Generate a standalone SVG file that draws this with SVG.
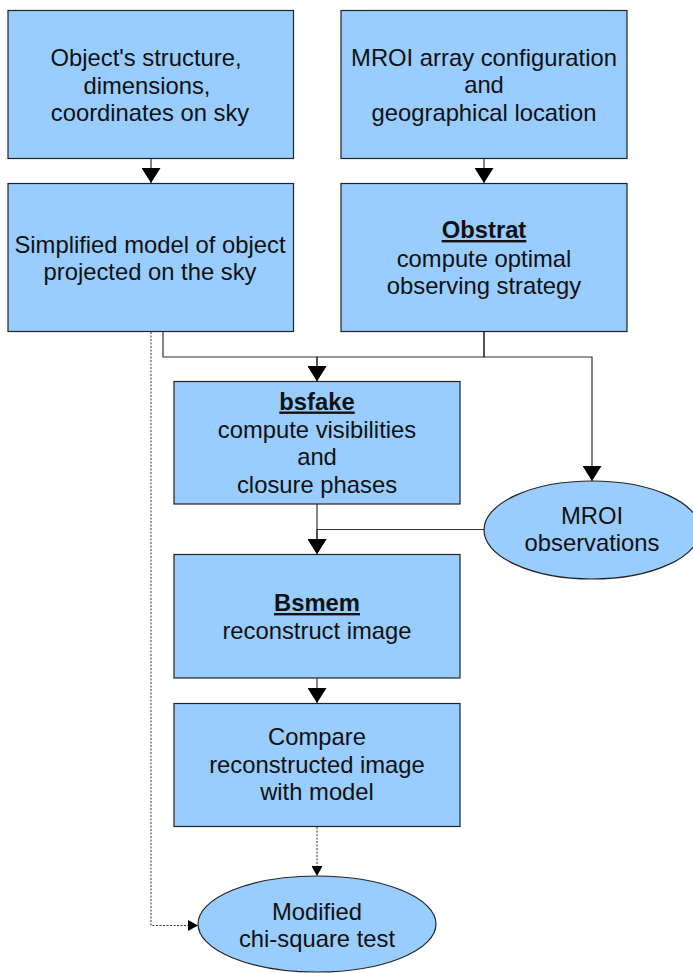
<svg xmlns="http://www.w3.org/2000/svg" width="693" height="973" viewBox="0 0 693 973">
<style>
.box{fill:#99ccff;stroke:#222;stroke-width:1.2}
.t{font-family:"Liberation Sans",Arial,sans-serif;font-size:23.8px;fill:#111;text-anchor:middle}
.b{font-weight:bold;text-decoration:underline}
.c{fill:none;stroke:#333;stroke-width:1.2}
.d{fill:none;stroke:#333;stroke-width:1;stroke-dasharray:2,1.5}
</style>
<defs>
<marker id="arr" viewBox="0 0 15 19" refX="15" refY="9.5" markerWidth="15" markerHeight="19" markerUnits="userSpaceOnUse" orient="auto">
<path d="M0,0 L15,9.5 L0,19 z" fill="#000"/>
</marker>
<marker id="arrs" viewBox="0 0 10 11" refX="10" refY="5.5" markerWidth="10" markerHeight="11" markerUnits="userSpaceOnUse" orient="auto">
<path d="M0,0 L10,5.5 L0,11 z" fill="#000"/>
</marker>
</defs>
<g id="connectors">
<path class="c" d="M151,159 V183" marker-end="url(#arr)"/>
<path class="c" d="M484,159 V183" marker-end="url(#arr)"/>
<path class="c" d="M163,332 V357 H317 V381" marker-end="url(#arr)"/>
<path class="c" d="M484,332 V357 H317 V381" marker-end="url(#arr)"/>
<path class="c" d="M484,332 V357 H592 V481" marker-end="url(#arr)"/>
<path class="c" d="M317,504 V554" marker-end="url(#arr)"/>
<path class="c" d="M484,529.5 H317 V554" marker-end="url(#arr)"/>
<path class="c" d="M317,678 V703" marker-end="url(#arr)"/>
<path class="d" d="M317,827 V876" marker-end="url(#arrs)"/>
<path class="d" d="M151,332 V925.5 H198" marker-end="url(#arrs)"/>
</g>
<g id="object">
<rect class="box" x="8" y="10.5" width="285.5" height="148"/>
<text class="t" x="146" y="66">Object's structure,</text>
<text class="t" x="147" y="93.5">dimensions,</text>
<text class="t" x="150" y="121">coordinates on sky</text>
</g>
<g id="mroi-config">
<rect class="box" x="341" y="10.5" width="286" height="148"/>
<text class="t" x="484" y="65.5">MROI array configuration</text>
<text class="t" x="484" y="93">and</text>
<text class="t" x="484" y="120.5">geographical location</text>
</g>
<g id="model">
<rect class="box" x="8" y="183.5" width="285.5" height="148"/>
<text class="t" x="150" y="252.5">Simplified model of object</text>
<text class="t" x="150" y="280">projected on the sky</text>
</g>
<g id="obstrat">
<rect class="box" x="341" y="183.5" width="286" height="148"/>
<text class="t b" x="484" y="238">Obstrat</text>
<text class="t" x="484" y="266.5">compute optimal</text>
<text class="t" x="484" y="294">observing strategy</text>
</g>
<g id="bsfake">
<rect class="box" x="174" y="381.5" width="286" height="122.5"/>
<text class="t b" x="317" y="409.5">bsfake</text>
<text class="t" x="317" y="437.5">compute visibilities</text>
<text class="t" x="317" y="465">and</text>
<text class="t" x="317" y="492.5">closure phases</text>
</g>
<g id="mroi-obs">
<ellipse class="box" cx="592" cy="530" rx="108" ry="49"/>
<text class="t" x="592" y="524">MROI</text>
<text class="t" x="592" y="551">observations</text>
</g>
<g id="bsmem">
<rect class="box" x="174" y="554.5" width="286" height="123.5"/>
<text class="t b" x="317" y="611">Bsmem</text>
<text class="t" x="317" y="638.5">reconstruct image</text>
</g>
<g id="compare">
<rect class="box" x="174" y="703.5" width="286" height="123"/>
<text class="t" x="317" y="745">Compare</text>
<text class="t" x="317" y="772.5">reconstructed image</text>
<text class="t" x="317" y="800">with model</text>
</g>
<g id="chi-square">
<ellipse class="box" cx="317" cy="924" rx="119" ry="48"/>
<text class="t" x="317" y="919.5">Modified</text>
<text class="t" x="317" y="947">chi-square test</text>
</g>
</svg>
